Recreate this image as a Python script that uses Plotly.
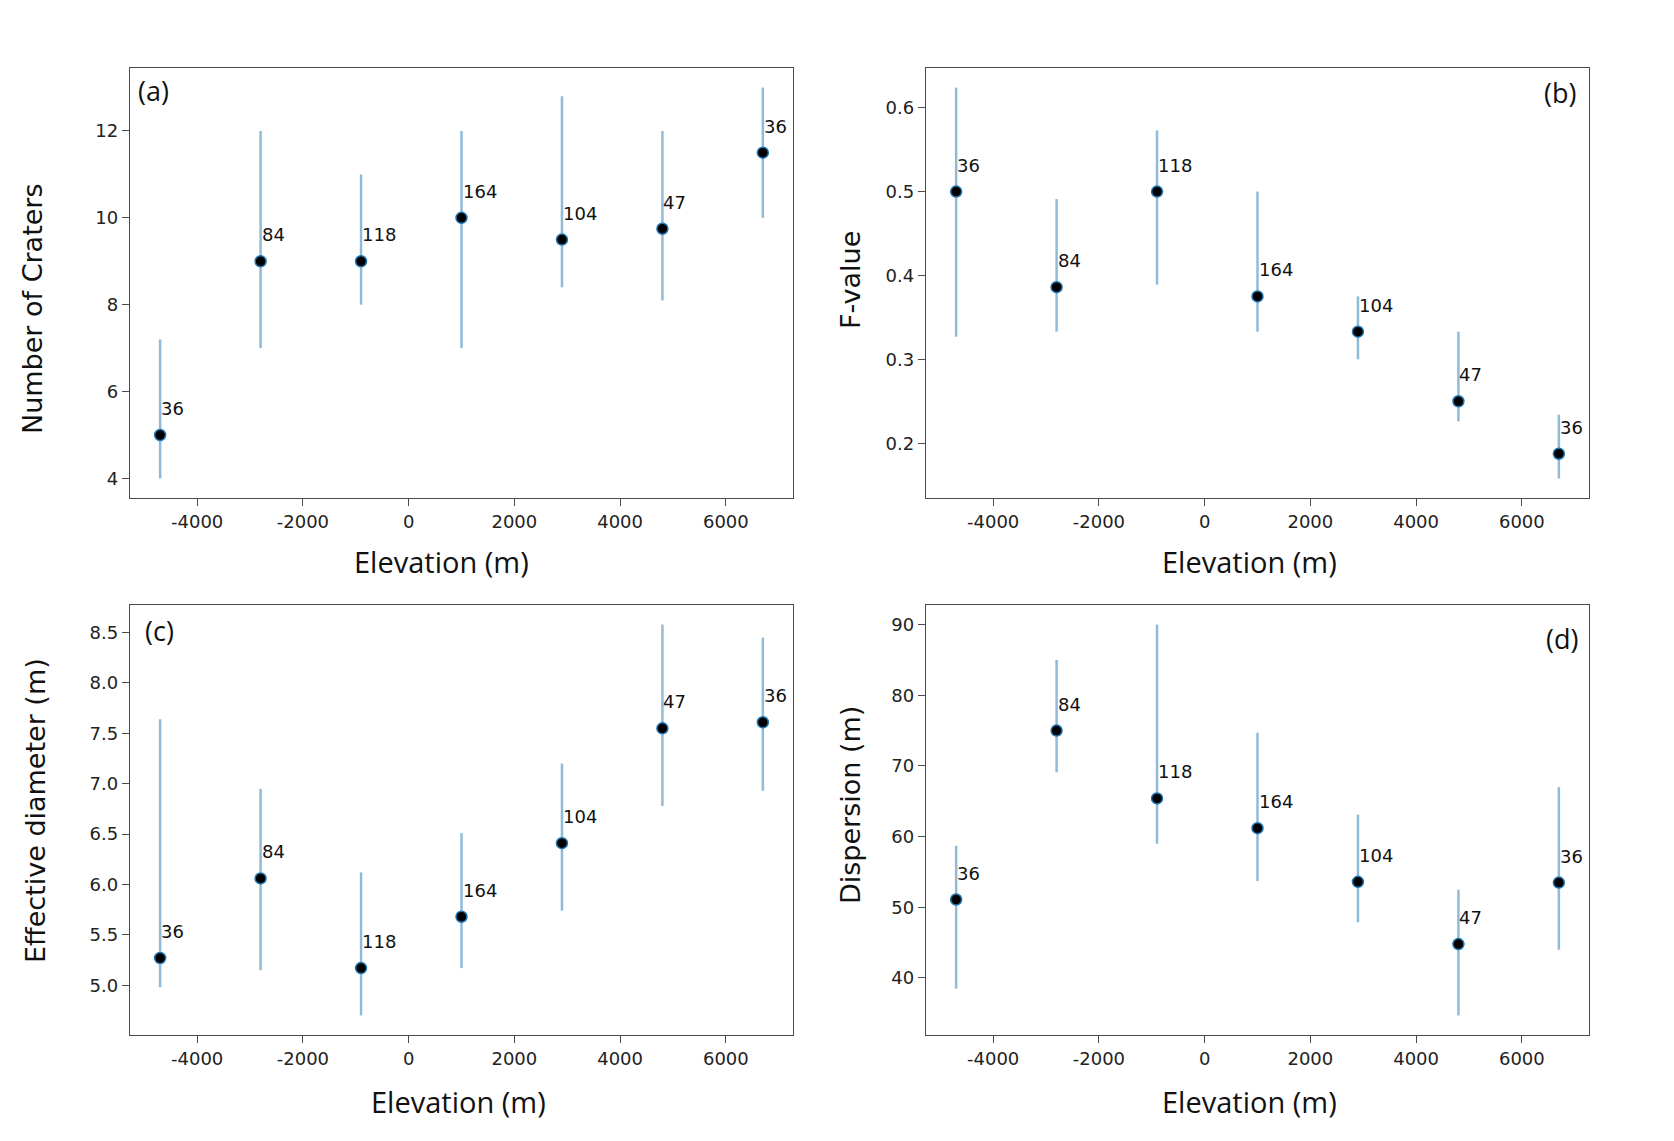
import plotly.graph_objects as go

# ---------------- data ----------------
elevation = [-4700, -2800, -900, 1000, 2900, 4800, 6700]
counts = [36, 84, 118, 164, 104, 47, 36]

craters_val = [5.0, 9.0, 9.0, 10.0, 9.5, 9.75, 11.5]
craters_lo = [4.0, 7.0, 8.0, 7.0, 8.4, 8.1, 10.0]
craters_hi = [7.2, 12.0, 11.0, 12.0, 12.8, 12.0, 13.0]

fvalue_val = [0.5, 0.386, 0.5, 0.375, 0.333, 0.25, 0.1875]
fvalue_lo = [0.327, 0.333, 0.389, 0.333, 0.300, 0.226, 0.158]
fvalue_hi = [0.624, 0.491, 0.573, 0.500, 0.375, 0.333, 0.234]

diam_val = [5.27, 6.06, 5.17, 5.68, 6.41, 7.55, 7.61]
diam_lo = [4.98, 5.15, 4.70, 5.17, 5.74, 6.78, 6.93]
diam_hi = [7.64, 6.95, 6.12, 6.51, 7.20, 8.58, 8.45]

disp_val = [51.1, 75.0, 65.4, 61.2, 53.6, 44.8, 53.5]
disp_lo = [38.5, 69.1, 59.0, 53.7, 47.9, 34.7, 44.0]
disp_hi = [58.7, 85.0, 90.0, 74.7, 63.1, 52.5, 67.0]

x_tickvals = [-4000, -2000, 0, 2000, 4000, 6000]
x_ticktext = ["-4000", "-2000", "0", "2000", "4000", "6000"]

y_ticks_a = [4, 6, 8, 10, 12]
y_ticks_b = [0.2, 0.3, 0.4, 0.5, 0.6]
y_ticks_c = [5.0, 5.5, 6.0, 6.5, 7.0, 7.5, 8.0, 8.5]
y_ticks_d = [40, 50, 60, 70, 80, 90]

ylabels = ["Number of Craters", "F-value", "Effective diameter (m)", "Dispersion (m)"]
panel_tags = ["(a)", "(b)", "(c)", "(d)"]
xlabel = "Elevation (m)"

# ---------------- layout constants ----------------
W, H = 1674, 1141
boxes = {  # left, right, top, bottom in pixels
    0: (130, 793, 68, 498),
    1: (926, 1589, 68, 498),
    2: (130, 793, 605, 1035),
    3: (926, 1589, 605, 1035),
}
ytick_sets = [y_ticks_a, y_ticks_b, y_ticks_c, y_ticks_d]
yfmt = ["d", ".1f", ".1f", "d"]
series = [
    (craters_val, craters_lo, craters_hi),
    (fvalue_val, fvalue_lo, fvalue_hi),
    (diam_val, diam_lo, diam_hi),
    (disp_val, disp_lo, disp_hi),
]

ERR_COLOR = "rgba(31,119,180,0.5)"
AX_COLOR = "#4a4a4a"
TICK_FONT = dict(family="DejaVu Sans", size=18, color="#222222")
LABEL_FONT = dict(family="DejaVu Sans", size=27, color="#111111")
XLABEL_FONT = dict(family="Open Sans", size=29, color="#111111")
TAG_FONT = dict(family="Open Sans", size=27, color="#111111")
NUM_FONT = dict(family="DejaVu Sans", size=18, color="#111111")

def margin_range(lo, hi):
    span = hi - lo
    return [lo - 0.05 * span, hi + 0.05 * span]

xrange_ = margin_range(min(elevation), max(elevation))

fig = go.Figure()
annotations = []

for i, (val, lo, hi) in enumerate(series):
    n = i + 1
    xa = "x" if n == 1 else f"x{n}"
    ya = "y" if n == 1 else f"y{n}"
    plus = [h - v for h, v in zip(hi, val)]
    minus = [v - l for v, l in zip(val, lo)]
    fig.add_trace(go.Scatter(
        x=elevation, y=val, mode="markers",
        xaxis=xa, yaxis=ya,
        marker=dict(color="black", size=11, line=dict(color="#1f77b4", width=1.5)),
        error_y=dict(type="data", array=plus, arrayminus=minus, symmetric=False,
                     color=ERR_COLOR, thickness=2.5, width=0),
        showlegend=False, hoverinfo="skip",
    ))
    l, r, t, b = boxes[i]
    xdom = [l / W, r / W]
    ydom = [1 - b / H, 1 - t / H]
    yr = margin_range(min(lo), max(hi))
    axkey_x = "xaxis" if n == 1 else f"xaxis{n}"
    axkey_y = "yaxis" if n == 1 else f"yaxis{n}"
    fig.update_layout(**{
        axkey_x: dict(domain=xdom, anchor=ya, range=xrange_, tickvals=x_tickvals,
                      ticktext=x_ticktext, showgrid=False, zeroline=False,
                      showline=True, linecolor=AX_COLOR, linewidth=1.3, mirror=True,
                      ticks="outside", ticklen=7, tickwidth=1.2, tickcolor=AX_COLOR,
                      tickfont=TICK_FONT),
        axkey_y: dict(domain=ydom, anchor=xa, range=yr, tickvals=ytick_sets[i],
                      tickformat=yfmt[i], showgrid=False, zeroline=False,
                      showline=True, linecolor=AX_COLOR, linewidth=1.3, mirror=True,
                      ticks="outside", ticklen=7, tickwidth=1.2, tickcolor=AX_COLOR,
                      tickfont=TICK_FONT),
    })
    # count labels near each point
    for xv, yv, c in zip(elevation, val, counts):
        annotations.append(dict(
            x=xv, y=yv, xref=xa, yref=ya, text=str(c), showarrow=False,
            xanchor="left", yanchor="bottom", xshift=-1, yshift=14, font=NUM_FONT))

# y-axis labels (rotated), x-axis labels and panel tags in pixel positions
ylab_pos = [(33, 309), (850, 280), (35, 811), (850, 805)]
xlab_pos = [(441, 561), (1249, 561), (459, 1101), (1249, 1101)]
tag_pos = [(153, 90), (1560, 92), (159, 630), (1562, 638)]
for i in range(4):
    xp, yp = ylab_pos[i]
    annotations.append(dict(x=xp / W, y=1 - yp / H, xref="paper", yref="paper",
                            text=ylabels[i], showarrow=False, textangle=-90,
                            xanchor="center", yanchor="middle", font=LABEL_FONT))
    xp, yp = xlab_pos[i]
    annotations.append(dict(x=xp / W, y=1 - yp / H, xref="paper", yref="paper",
                            text=xlabel, showarrow=False,
                            xanchor="center", yanchor="middle", font=XLABEL_FONT))
    xp, yp = tag_pos[i]
    annotations.append(dict(x=xp / W, y=1 - yp / H, xref="paper", yref="paper",
                            text=panel_tags[i], showarrow=False,
                            xanchor="center", yanchor="middle", font=TAG_FONT))

fig.update_layout(
    width=W, height=H, margin=dict(l=0, r=0, t=0, b=0),
    paper_bgcolor="white", plot_bgcolor="white",
    annotations=annotations, showlegend=False,
)

fig.write_html("out.html",
               config={"displayModeBar": False},
               post_script="document.body.style.margin='0px';document.body.style.overflow='hidden';")
